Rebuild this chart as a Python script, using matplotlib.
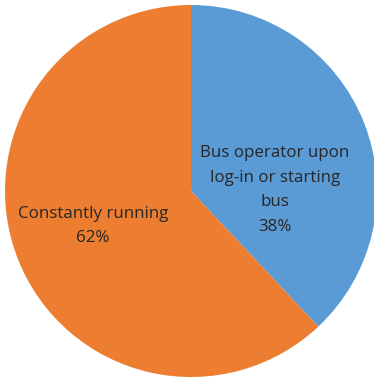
import matplotlib
matplotlib.use("Agg")
import matplotlib.pyplot as plt

labels = ["Bus operator upon\nlog-in or starting\nbus", "Constantly running"]
values = [38, 62]
colors = ["#5B9BD5", "#ED7D31"]

W, H = 374, 379
fig = plt.figure(figsize=(W/100, H/100), dpi=100)
ax = fig.add_axes([0, 0, 1, 1])
cx, cy, r = 191, H - 191, 186
wedges, _ = ax.pie(values, colors=colors, startangle=90, counterclock=False,
                   center=(cx, cy), radius=r, frame=True)
ax.set_xlim(0, W)
ax.set_ylim(0, H)
ax.set_aspect("equal")
ax.axis("off")

font = dict(family="Open Sans", fontsize=12.2, color="#262626", ha="center", va="center", linespacing=1.7)
ax.text(275, H - 190, f"{labels[0]}\n{values[0]}%", **font)
ax.text(93, H - 226, f"{labels[1]}\n{values[1]}%", **font)

fig.savefig("out.png", dpi=100)
